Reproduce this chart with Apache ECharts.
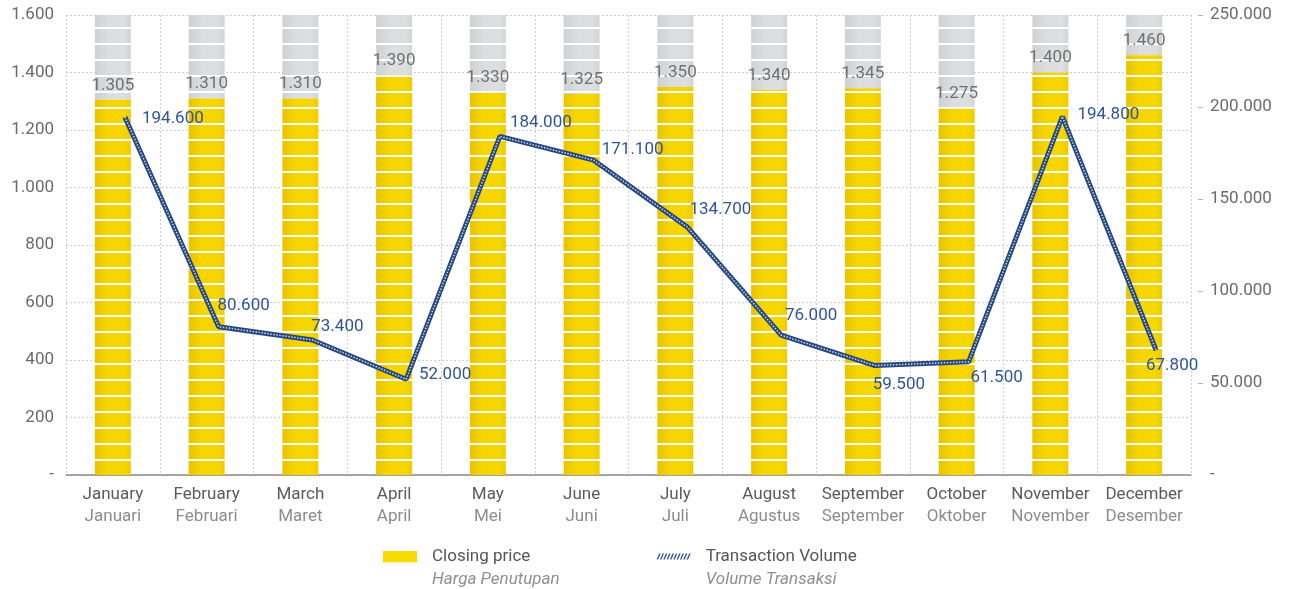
<!DOCTYPE html>
<html><head><meta charset="utf-8">
<script src="https://cdn.jsdelivr.net/npm/echarts@6/dist/echarts.min.js"></script>
<style>html,body{margin:0;padding:0;background:#fff}#c{width:1291px;height:589px}</style>
</head><body><div id="c"></div>
<script>
// ---- data ----
const monthsEn = ['January','February','March','April','May','June','July','August','September','October','November','December'];
const monthsId = ['Januari','Februari','Maret','April','Mei','Juni','Juli','Agustus','September','Oktober','November','Desember'];
const closingPrice = [1305,1310,1310,1390,1330,1325,1350,1340,1345,1275,1400,1460];
const transactionVolume = [194600,80600,73400,52000,184000,171100,134700,76000,59500,61500,194800,67800];
const priceAxis = [0, 1600, 200];      // min, max, interval
const volumeAxis = [0, 250000, 50000]; // min, max, interval
const legendNames = ['Closing price','Transaction Volume'];
const legendNamesId = ['Harga Penutupan','Volume Transaksi'];

// ---- layout (label nudges, px) ----
const volumeLabelOffsets = [[48,2],[25,-21],[25,-13],[39,-5],[41,-14],[39,-10],[33,-17],[30,-19],[24,19],[28,16],[46,-2],[16,16]];

const FONT = 'Roboto, "Open Sans", sans-serif';
function fmt(v){ return v === 0 ? '-' : String(v).replace(/\B(?=(\d{3})+(?!\d))/g, '.'); }

const stripe = { symbol:'rect', symbolSize:1, color:'#ffffff', dashArrayX:[[0,8],[8,0]], dashArrayY:[11,0,2,3], rotation:0 };
const yellow = new echarts.graphic.LinearGradient(0,0,1,0,[{offset:0,color:'#E8C200'},{offset:0.35,color:'#F6D500'},{offset:0.8,color:'#F7D700'},{offset:1,color:'#EFCB00'}]);
const grey = new echarts.graphic.LinearGradient(0,0,1,0,[{offset:0,color:'#CFD0D2'},{offset:0.4,color:'#DCDDDF'},{offset:0.8,color:'#DDDEE0'},{offset:1,color:'#D3D4D6'}]);

const hatch = (function(){ let p=''; for(let i=0;i<10;i++){ const x=i*3.2; p+='M'+x+' 6L'+(x+1.4)+' 6L'+(x+3.9)+' 0L'+(x+2.5)+' 0Z'; } return 'path://'+p; })();
const yellowSwatch = 'image://data:image/svg+xml;charset=utf-8,' + encodeURIComponent('<svg xmlns="http://www.w3.org/2000/svg" width="34" height="12"><rect width="34" height="12" fill="#F9DA00"/></svg>');

const chart = echarts.init(document.getElementById('c'), null, {renderer:'canvas'});
chart.setOption({
  animation:false,
  textStyle:{fontFamily:FONT},
  grid:[
    {left:66, right:100, top:15, bottom:114},
    {left:78, right:88, top:15, bottom:114}
  ],
  legend:{
    left:378, top:543, itemWidth:34, itemHeight:12, itemGap:97,
    data:[{name:legendNames[0], icon:yellowSwatch},{name:legendNames[1], icon:hatch, itemStyle:{color:'#2f5597'}}],
    formatter:function(n){ const i=legendNames.indexOf(n); return '{a|'+n+'}\n{b|'+legendNamesId[i]+'}'; },
    textStyle:{padding:[23,0,0,10], rich:{
      a:{fontSize:17, color:'#555', lineHeight:23, fontFamily:FONT},
      b:{fontSize:17, color:'#8f8f8f', fontStyle:'italic', lineHeight:23, fontFamily:FONT}
    }}
  },
  xAxis:[
    {type:'category', gridIndex:0, data:monthsEn,
     axisLine:{lineStyle:{color:'#8a8a8a', width:1.5}}, axisTick:{show:false},
     splitLine:{show:true, lineStyle:{color:'#cfcfcf', type:[2,2], width:1}},
     axisLabel:{margin:9, interval:0,
       formatter:function(v,i){ return '{a|'+v+'}\n{b|'+monthsId[i]+'}'; },
       rich:{a:{fontSize:17, color:'#5a5a5a', lineHeight:22, fontFamily:FONT}, b:{fontSize:17, color:'#8c8c8c', lineHeight:22, fontFamily:FONT}}}},
    {type:'category', gridIndex:1, data:monthsEn, show:false}
  ],
  yAxis:[
    {type:'value', gridIndex:0, min:priceAxis[0], max:priceAxis[1], interval:priceAxis[2],
     axisLine:{show:false}, axisTick:{show:false},
     splitLine:{lineStyle:{color:'#cfcfcf', type:[2,2], width:1}},
     axisLabel:{formatter:fmt, color:'#6a6a6a', fontSize:17, margin:12, fontFamily:FONT}},
    {type:'value', gridIndex:0, position:'right', offset:7, min:volumeAxis[0], max:volumeAxis[1], interval:volumeAxis[2],
     axisLine:{show:false},
     axisTick:{show:true, length:5, lineStyle:{color:'#b5b5b5'}, customValues:[50000,100000,150000,200000,250000]},
     splitLine:{show:false},
     axisLabel:{formatter:fmt, color:'#6a6a6a', fontSize:17, margin:12, fontFamily:FONT}},
    {type:'value', gridIndex:1, min:volumeAxis[0], max:volumeAxis[1], interval:volumeAxis[2], show:false, splitLine:{show:false}}
  ],
  series:[
    {name:legendNames[0], type:'bar', xAxisIndex:0, yAxisIndex:0, stack:'p', barWidth:36,
     data:closingPrice,
     itemStyle:{color:yellow, decal:stripe},
     label:{show:true, position:'top', distance:6, formatter:function(p){return fmt(p.value);}, color:'#707070', fontSize:17, fontFamily:FONT},
     z:2},
    {name:'rest', type:'bar', xAxisIndex:0, yAxisIndex:0, stack:'p', barWidth:36,
     data:closingPrice.map(function(v){return priceAxis[1]-v;}),
     itemStyle:{color:grey, decal:stripe}, silent:true, z:1},
    {name:legendNames[1], type:'line', xAxisIndex:1, yAxisIndex:2,
     data:transactionVolume.map(function(v,i){ return {value:v, label:{offset:volumeLabelOffsets[i]}}; }),
     symbol:'circle', symbolSize:0.1, showSymbol:true,
     itemStyle:{color:'#24467f'},
     lineStyle:{color:'#24467f', width:5},
     label:{show:true, position:'inside', formatter:function(p){return fmt(p.value);}, color:'#2f5597', fontSize:17, fontFamily:FONT},
     z:5},
    {name:'volume-hatch', type:'line', xAxisIndex:1, yAxisIndex:2, data:transactionVolume,
     symbol:'none', lineStyle:{color:'rgba(255,255,255,0.75)', width:1.6, type:[1.5,1.5]}, z:6, silent:true}
  ]
});
</script></body></html>
